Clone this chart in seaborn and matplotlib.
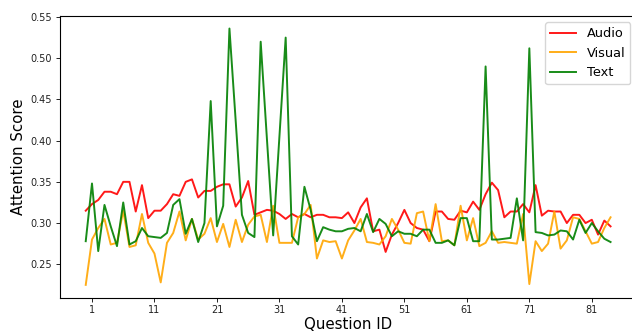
"""
Attention score per question for the three modalities
"""
import matplotlib
matplotlib.use("Agg")
import matplotlib.pyplot as plt
import seaborn as sns
import numpy as np
import pandas as pd

# question index 0..84, ticks labelled every 10 starting at 1
question_idx = list(range(85))
tick_positions = list(range(1, 85, 10))

audio = [
    0.315, 0.323, 0.328, 0.338, 0.338, 0.335, 0.350, 0.350, 0.314, 0.346,
    0.306, 0.315, 0.315, 0.323, 0.335, 0.333, 0.350, 0.353, 0.331, 0.339,
    0.339, 0.344, 0.347, 0.347, 0.320, 0.331, 0.351, 0.310, 0.313, 0.316,
    0.315, 0.311, 0.305, 0.311, 0.307, 0.311, 0.307, 0.310, 0.310, 0.307,
    0.307, 0.306, 0.313, 0.300, 0.319, 0.330, 0.290, 0.292, 0.265, 0.286,
    0.300, 0.316, 0.300, 0.294, 0.292, 0.278, 0.314, 0.314, 0.305, 0.304,
    0.315, 0.313, 0.326, 0.316, 0.335, 0.349, 0.340, 0.307, 0.314, 0.314,
    0.323, 0.313, 0.346, 0.309, 0.315, 0.314, 0.314, 0.300, 0.310, 0.310,
    0.300, 0.304, 0.286, 0.303, 0.296,
]

visual = [
    0.225, 0.280, 0.294, 0.305, 0.274, 0.276, 0.315, 0.271, 0.273, 0.311,
    0.276, 0.263, 0.228, 0.276, 0.288, 0.314, 0.279, 0.305, 0.280, 0.287,
    0.306, 0.277, 0.299, 0.271, 0.304, 0.277, 0.298, 0.308, 0.310, 0.277,
    0.321, 0.276, 0.276, 0.276, 0.307, 0.311, 0.322, 0.257, 0.279, 0.277,
    0.278, 0.257, 0.279, 0.291, 0.305, 0.277, 0.276, 0.274, 0.284, 0.305,
    0.292, 0.276, 0.275, 0.312, 0.314, 0.278, 0.323, 0.278, 0.279, 0.273,
    0.321, 0.279, 0.306, 0.272, 0.276, 0.290, 0.276, 0.277, 0.276, 0.275,
    0.311, 0.226, 0.278, 0.266, 0.275, 0.314, 0.269, 0.279, 0.307, 0.305,
    0.290, 0.275, 0.277, 0.294, 0.307,
]

text = [
    0.278, 0.348, 0.266, 0.322, 0.296, 0.272, 0.325, 0.274, 0.278, 0.294,
    0.284, 0.283, 0.282, 0.288, 0.322, 0.329, 0.287, 0.305, 0.277, 0.300,
    0.448, 0.296, 0.321, 0.536, 0.424, 0.310, 0.288, 0.283, 0.520, 0.402,
    0.285, 0.405, 0.525, 0.284, 0.274, 0.344, 0.316, 0.278, 0.295, 0.292,
    0.290, 0.290, 0.293, 0.294, 0.290, 0.311, 0.289, 0.305, 0.299, 0.284,
    0.290, 0.287, 0.287, 0.284, 0.292, 0.292, 0.276, 0.276, 0.279, 0.273,
    0.306, 0.306, 0.278, 0.278, 0.490, 0.280, 0.280, 0.281, 0.282, 0.330,
    0.279, 0.512, 0.289, 0.288, 0.285, 0.286, 0.291, 0.290, 0.280, 0.304,
    0.288, 0.300, 0.290, 0.281, 0.277,
]

modalities = ["Audio", "Visual", "Text"]
palette = {"Audio": "red", "Visual": "orange", "Text": "green"}

df = pd.DataFrame({
    "question": question_idx * 3,
    "score": audio + visual + text,
    "modality": np.repeat(modalities, len(question_idx)),
})

fig = plt.figure(figsize=(6.32, 3.35), dpi=100)
ax = fig.add_axes([59.5 / 632, 37.3 / 335, 577.3 / 632, 282.0 / 335])

sns.lineplot(
    data=df, x="question", y="score", hue="modality",
    hue_order=modalities, palette=palette,
    linewidth=1.4, alpha=0.9, errorbar=None, ax=ax,
)

ax.set_xticks(tick_positions)
ax.set_xticklabels([str(t) for t in tick_positions])
ax.set_yticks([0.25, 0.30, 0.35, 0.40, 0.45, 0.50, 0.55])
ax.tick_params(axis="both", labelsize=7, length=3.1, width=0.7, pad=2.2,
               colors="#222222")
for side in ax.spines.values():
    side.set_linewidth(0.8)

ax.set_xlabel("Question ID", fontsize=10.8, labelpad=1.5)
ax.set_ylabel("Attention Score", fontsize=10.8, labelpad=3)

ax.legend(loc="upper right", fontsize=9.3)

plt.savefig("out.png", dpi=100)
